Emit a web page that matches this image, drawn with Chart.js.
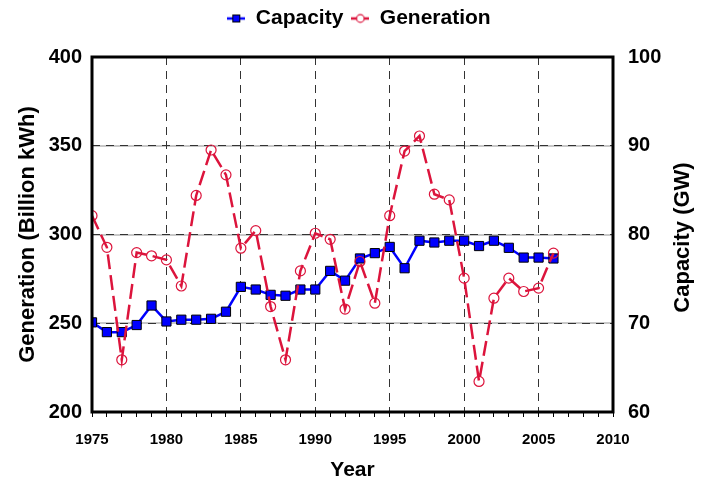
<!DOCTYPE html>
<html>
<head>
<meta charset="utf-8">
<script src="https://cdn.jsdelivr.net/npm/chart.js@4/dist/chart.umd.min.js"></script>
<style>
  html, body { margin: 0; padding: 0; background: #fff; }
  #wrap { width: 702px; height: 483px; }
</style>
</head>
<body>
<div id="wrap"><canvas id="chart" width="702" height="483"></canvas></div>
<script>
// data
const years = [1975, 1976, 1977, 1978, 1979, 1980, 1981, 1982, 1983, 1984, 1985, 1986, 1987, 1988, 1989, 1990,
               1991, 1992, 1993, 1994, 1995, 1996, 1997, 1998, 1999, 2000, 2001, 2002, 2003, 2004, 2005, 2006];
const capacity = [70.1, 69.0, 69.0, 69.8, 72.0, 70.2, 70.4, 70.4, 70.5, 71.3, 74.1, 73.8, 73.2, 73.1, 73.8, 73.8,
                  75.9, 74.8, 77.3, 77.9, 78.6, 76.2, 79.3, 79.1, 79.3, 79.3, 78.7, 79.3, 78.5, 77.4, 77.4, 77.3];
const generation = [310.6, 292.8, 229.4, 289.8, 288.0, 285.7, 271.0, 322.0, 347.6, 333.6, 292.3, 302.2, 259.4, 229.4, 279.5, 300.7,
                    297.3, 258.0, 284.8, 261.3, 310.6, 347.0, 355.5, 322.7, 319.5, 275.4, 217.2, 264.1, 275.4, 267.9, 269.8, 289.5];
const xTicks = [1975, 1980, 1985, 1990, 1995, 2000, 2005, 2010];
const minorYears = [2007, 2008, 2009, 2010];

const font = 'Liberation Sans, Arial, sans-serif';
const blue = '#0000ff';
const red = '#dc143c';

// little legend icons: line segment with the marker on it
function legendIcon(kind) {
    const c = document.createElement('canvas');
    c.width = 18; c.height = 12;
    const g = c.getContext('2d');
    g.lineWidth = 2.5;
    if (kind === 'rect') {
        g.strokeStyle = blue;
        g.beginPath(); g.moveTo(0, 6); g.lineTo(18, 6); g.stroke();
        g.fillStyle = blue; g.fillRect(5.5, 2.5, 7, 7);
        g.lineWidth = 1; g.strokeStyle = '#000'; g.strokeRect(5.5, 2.5, 7, 7);
    } else {
        g.strokeStyle = red;
        g.beginPath(); g.moveTo(0, 6); g.lineTo(5, 6); g.moveTo(13, 6); g.lineTo(18, 6); g.stroke();
        g.lineWidth = 1.2;
        g.beginPath(); g.arc(9, 6, 3.8, 0, Math.PI * 2); g.stroke();
    }
    return c;
}

const frame = {
    id: 'frame',
    beforeLayout(chart) {
        // fixed legend band so the plot starts where the reference's does
        const lg = chart.legend;
        if (lg && !lg._fixed) {
            const fit = lg.fit.bind(lg);
            lg.fit = function () { fit(); this.height = 57; };
            lg._fixed = true;
        }
    },
    afterLayout(chart) {
        // the reference legend sits a little right of centre
        const lg = chart.legend;
        if (lg) { lg.left += 8; lg.right += 8; }
    },
    afterDatasetsDraw(chart) {
        const a = chart.chartArea, ctx = chart.ctx;
        ctx.save();
        ctx.strokeStyle = '#000';
        ctx.lineWidth = 3;
        ctx.strokeRect(a.left, a.top, a.right - a.left, a.bottom - a.top);
        // right axis title reads bottom-to-top in the reference
        ctx.translate(683, (a.top + a.bottom) / 2 + 3);
        ctx.rotate(-Math.PI / 2);
        ctx.fillStyle = '#000';
        ctx.font = 'bold 22px ' + font;
        ctx.textAlign = 'center';
        ctx.textBaseline = 'middle';
        ctx.fillText('Capacity (GW)', 0, 0);
        ctx.restore();
    }
};

new Chart(document.getElementById('chart'), {
    type: 'line',
    data: {
        datasets: [{
            label: 'Capacity',
            data: years.map((y, i) => ({ x: y, y: capacity[i] })),
            yAxisID: 'y1',
            order: 1,
            borderColor: blue,
            borderWidth: 2.5,
            pointStyle: 'rect',
            pointRadius: 6.5,
            pointBackgroundColor: blue,
            pointBorderColor: '#000',
            pointBorderWidth: 1,
            tension: 0
        }, {
            label: 'Generation',
            data: years.map((y, i) => ({ x: y, y: generation[i] })),
            yAxisID: 'y',
            order: 0,
            borderColor: red,
            borderWidth: 2.5,
            borderDash: [15, 6],
            pointStyle: 'circle',
            pointRadius: 5,
            pointBackgroundColor: 'rgba(255,255,255,0)',
            pointBorderColor: red,
            pointBorderWidth: 1.2,
            tension: 0
        }]
    },
    options: {
        responsive: false,
        animation: false,
        layout: { padding: 0 },
        plugins: {
            tooltip: { enabled: false },
            legend: {
                position: 'top',
                labels: {
                    usePointStyle: true,
                    pointStyleWidth: 18,
                    padding: 8,
                    color: '#000',
                    font: { family: font, size: 21, weight: 'bold' },
                    generateLabels(chart) {
                        return chart.data.datasets.map((ds, i) => ({
                            text: ds.label,
                            datasetIndex: i,
                            pointStyle: legendIcon(i === 0 ? 'rect' : 'circle'),
                            fontColor: '#000',
                            lineWidth: 0,
                            strokeStyle: 'transparent',
                            fillStyle: 'transparent'
                        }));
                    }
                }
            }
        },
        scales: {
            x: {
                type: 'linear',
                min: 1975,
                max: 2010,
                afterFit(s) { s.height = 71; },
                afterBuildTicks(s) { s.ticks = years.concat(minorYears).map(v => ({ value: v })); },
                ticks: {
                    autoSkip: false,
                    maxRotation: 0,
                    padding: 14,
                    color: '#000',
                    font: { family: font, size: 15, weight: 'bold' },
                    callback: v => xTicks.includes(v) ? String(v) : ''
                },
                grid: {
                    color: c => (c.tick && c.tick.value % 5 === 0) ? '#333' : 'rgba(0,0,0,0)',
                    tickColor: '#000',
                    tickLength: 5,
                    lineWidth: 1
                },
                border: { display: false, dash: [8, 6] },
                title: {
                    display: true,
                    text: 'Year',
                    color: '#000',
                    font: { family: font, size: 21, weight: 'bold' },
                    padding: { top: 0, bottom: 0 }
                }
            },
            y: {
                position: 'left',
                min: 200,
                max: 400,
                afterFit(s) { s.width = 92; },
                ticks: {
                    stepSize: 50,
                    padding: 10,
                    color: '#000',
                    font: { family: font, size: 20, weight: 'bold' }
                },
                grid: {
                    color: '#333',
                    drawTicks: false,
                    lineWidth: 1
                },
                border: { display: false, dash: [8, 6] },
                title: {
                    display: true,
                    text: 'Generation (Billion kWh)',
                    color: '#000',
                    font: { family: font, size: 22, weight: 'bold' },
                    padding: { top: 15, bottom: 0 }
                }
            },
            y1: {
                position: 'right',
                min: 60,
                max: 100,
                afterFit(s) { s.width = 89; },
                ticks: {
                    stepSize: 10,
                    padding: 15,
                    color: '#000',
                    font: { family: font, size: 20, weight: 'bold' }
                },
                grid: {
                    color: '#c8c8c8',
                    drawTicks: false,
                    lineWidth: 2,
                    z: -2
                },
                border: { display: false }
            }
        }
    },
    plugins: [frame]
});
</script>
</body>
</html>
